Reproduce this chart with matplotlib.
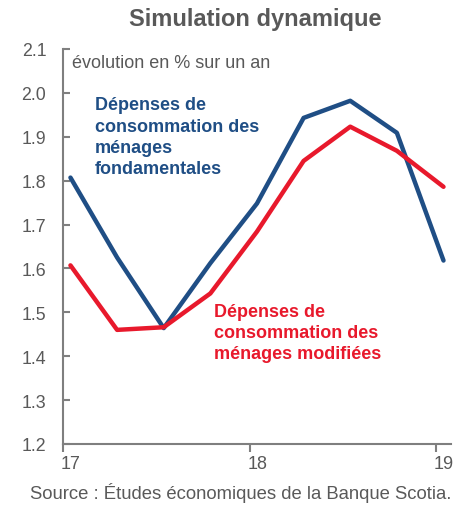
import matplotlib

matplotlib.use("Agg")
import matplotlib.pyplot as plt
from matplotlib.transforms import ScaledTranslation

# quarterly points, 2017Q1 .. 2019Q1
quarters = [17.04, 17.29, 17.54, 17.79, 18.04, 18.29, 18.54, 18.79, 19.04]
core_spending = [1.807, 1.625, 1.464, 1.612, 1.748, 1.943, 1.982, 1.909, 1.618]
modified_spending = [1.607, 1.460, 1.466, 1.543, 1.684, 1.845, 1.923, 1.868, 1.786]

y_ticks = [1.2, 1.3, 1.4, 1.5, 1.6, 1.7, 1.8, 1.9, 2.0, 2.1]
x_ticks = [17, 18, 19]
x_labels = ["17", "18", "19"]

COLORS = {
    "blue": "#1f4e85",
    "red": "#e8192c",
    "text": "#595959",
    "axis": "#7f7f7f",
}

plt.rcParams["font.family"] = ["Liberation Sans", "DejaVu Sans"]

fig = plt.figure(figsize=(4.68, 5.06), dpi=100)
ax = fig.add_axes([0.1346, 0.1206, 0.829, 0.7806])

ax.plot(quarters, core_spending, color=COLORS["blue"], linewidth=3.2, solid_capstyle="round")
ax.plot(quarters, modified_spending, color=COLORS["red"], linewidth=3.2, solid_capstyle="round")

ax.set_xlim(17, 19.08)
ax.set_ylim(1.2, 2.1)
ax.set_yticks(y_ticks)
ax.set_yticklabels([f"{v:.1f}" for v in y_ticks])
ax.set_xticks(x_ticks)
ax.set_xticklabels(x_labels)

for side in ["top", "right"]:
    ax.spines[side].set_visible(False)
for side in ["left", "bottom"]:
    ax.spines[side].set_color(COLORS["axis"])
    ax.spines[side].set_linewidth(1.5)

ax.tick_params(axis="y", direction="in", length=5, width=1.5, color=COLORS["axis"],
               labelsize=12.8, labelcolor=COLORS["text"], pad=12)
ax.tick_params(axis="x", direction="out", length=6, width=1.5, color=COLORS["axis"],
               labelsize=13, labelcolor=COLORS["text"], pad=2)

# x labels sit a little right of their ticks in the original
shift = ScaledTranslation(8 / 100, 0, fig.dpi_scale_trans)
for lab in ax.get_xticklabels():
    lab.set_transform(lab.get_transform() + shift)

ax.text(0.022, 0.988, "évolution en % sur un an", transform=ax.transAxes,
        fontsize=13, color=COLORS["text"], va="top", ha="left")

ax.text(0.082, 0.88, "Dépenses de\nconsommation des\nménages\nfondamentales",
        transform=ax.transAxes, fontsize=13, fontweight="bold", color=COLORS["blue"],
        va="top", ha="left", linespacing=1.33)
ax.text(0.39, 0.357, "Dépenses de\nconsommation des\nménages modifiées",
        transform=ax.transAxes, fontsize=13, fontweight="bold", color=COLORS["red"],
        va="top", ha="left", linespacing=1.3)

fig.text(0.545, 0.962, "Simulation dynamique", fontsize=17, fontweight="bold",
         color=COLORS["text"], ha="center", va="center")
fig.text(0.964, 0.006, "Source : Études économiques de la Banque Scotia.", fontsize=13.3,
         color=COLORS["text"], ha="right", va="bottom")

fig.savefig("out.png", dpi=100)
